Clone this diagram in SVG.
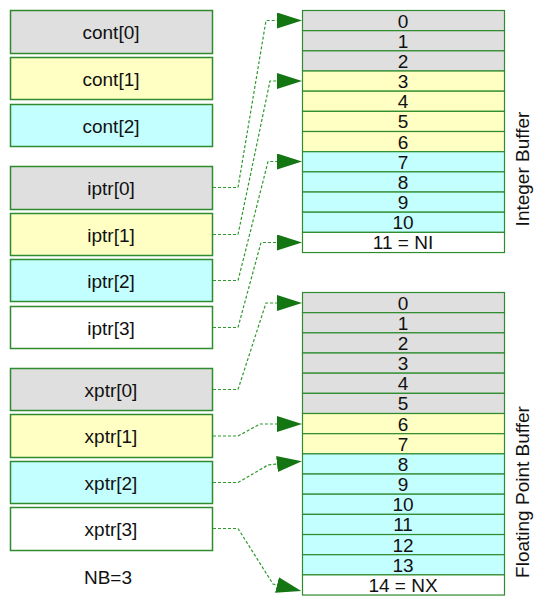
<svg xmlns="http://www.w3.org/2000/svg" width="550" height="600" viewBox="0 0 550 600">
  <style>
    .box { stroke: #2e8b2e; stroke-width: 1.5; }
    .cell { stroke: #2e8b2e; stroke-width: 1.2; }
    .g { fill: #dfdfdf; }
    .y { fill: #ffffc4; }
    .c { fill: #c4ffff; }
    .w { fill: #ffffff; }
    .lbl { font-family: "Liberation Sans", Arial, sans-serif; font-size: 19px; fill: #111; text-anchor: middle; dominant-baseline: central; }
    .num { font-family: "Liberation Sans", Arial, sans-serif; font-size: 19px; fill: #111; text-anchor: middle; dominant-baseline: central; }
    .link { fill: none; stroke: #2e992e; stroke-width: 1.2; stroke-dasharray: 3 2; marker-end: url(#head); }
  </style>
  <defs>
    <marker id="head" viewBox="0 0 25 16" refX="0" refY="8" markerWidth="25" markerHeight="16" markerUnits="userSpaceOnUse" orient="auto">
      <path d="M0,0 L25,8 L0,16 Z" fill="#137613"/>
    </marker>
  </defs>

  <!-- control array -->
  <g id="cont0"><rect class="box g" x="10.5" y="10.5" width="202" height="43"/><text class="lbl" x="111" y="32.5">cont[0]</text></g>
  <g id="cont1"><rect class="box y" x="10.5" y="57.5" width="202" height="42"/><text class="lbl" x="111" y="79">cont[1]</text></g>
  <g id="cont2"><rect class="box c" x="10.5" y="104.5" width="202" height="42"/><text class="lbl" x="111" y="126">cont[2]</text></g>

  <!-- integer pointers -->
  <g id="iptr0"><rect class="box g" x="10.5" y="166.5" width="202" height="43"/><text class="lbl" x="111" y="188.5">iptr[0]</text></g>
  <g id="iptr1"><rect class="box y" x="10.5" y="213.5" width="202" height="42"/><text class="lbl" x="111" y="235">iptr[1]</text></g>
  <g id="iptr2"><rect class="box c" x="10.5" y="259.5" width="202" height="42"/><text class="lbl" x="111" y="281">iptr[2]</text></g>
  <g id="iptr3"><rect class="box w" x="10.5" y="306.5" width="202" height="42"/><text class="lbl" x="111" y="328">iptr[3]</text></g>

  <!-- floating point pointers -->
  <g id="xptr0"><rect class="box g" x="10.5" y="368.5" width="202" height="42"/><text class="lbl" x="111" y="390">xptr[0]</text></g>
  <g id="xptr1"><rect class="box y" x="10.5" y="414.5" width="202" height="43"/><text class="lbl" x="111" y="436.5">xptr[1]</text></g>
  <g id="xptr2"><rect class="box c" x="10.5" y="461.5" width="202" height="42"/><text class="lbl" x="111" y="483">xptr[2]</text></g>
  <g id="xptr3"><rect class="box w" x="10.5" y="507.5" width="202" height="43"/><text class="lbl" x="111" y="529.5">xptr[3]</text></g>

  <g id="nb"><text class="lbl" x="108" y="577">NB=3</text></g>

  <!-- integer buffer: 12 cells -->
  <g id="integer-buffer">
    <rect class="cell g" x="302.5" y="10.5" width="202" height="20.17"/><text class="num" x="403" y="21">0</text>
    <rect class="cell g" x="302.5" y="30.67" width="202" height="20.17"/><text class="num" x="403" y="41.2">1</text>
    <rect class="cell g" x="302.5" y="50.84" width="202" height="20.17"/><text class="num" x="403" y="61.3">2</text>
    <rect class="cell y" x="302.5" y="71.01" width="202" height="20.17"/><text class="num" x="403" y="81.5">3</text>
    <rect class="cell y" x="302.5" y="91.18" width="202" height="20.17"/><text class="num" x="403" y="101.7">4</text>
    <rect class="cell y" x="302.5" y="111.35" width="202" height="20.17"/><text class="num" x="403" y="121.8">5</text>
    <rect class="cell y" x="302.5" y="131.52" width="202" height="20.17"/><text class="num" x="403" y="142">6</text>
    <rect class="cell c" x="302.5" y="151.69" width="202" height="20.17"/><text class="num" x="403" y="162.2">7</text>
    <rect class="cell c" x="302.5" y="171.86" width="202" height="20.17"/><text class="num" x="403" y="182.3">8</text>
    <rect class="cell c" x="302.5" y="192.03" width="202" height="20.17"/><text class="num" x="403" y="202.5">9</text>
    <rect class="cell c" x="302.5" y="212.2" width="202" height="20.17"/><text class="num" x="403" y="222.7">10</text>
    <rect class="cell w" x="302.5" y="232.37" width="202" height="20.17"/><text class="num" x="403" y="242.8">11 = NI</text>
    <text class="num" transform="translate(522,169) rotate(-90)" x="0" y="0">Integer Buffer</text>
  </g>

  <!-- floating point buffer: 15 cells -->
  <g id="float-buffer">
    <rect class="cell g" x="302.5" y="292.5" width="202" height="20.17"/><text class="num" x="403" y="303">0</text>
    <rect class="cell g" x="302.5" y="312.67" width="202" height="20.17"/><text class="num" x="403" y="323.2">1</text>
    <rect class="cell g" x="302.5" y="332.84" width="202" height="20.17"/><text class="num" x="403" y="343.3">2</text>
    <rect class="cell g" x="302.5" y="353.01" width="202" height="20.17"/><text class="num" x="403" y="363.5">3</text>
    <rect class="cell g" x="302.5" y="373.18" width="202" height="20.17"/><text class="num" x="403" y="383.7">4</text>
    <rect class="cell g" x="302.5" y="393.35" width="202" height="20.17"/><text class="num" x="403" y="403.8">5</text>
    <rect class="cell y" x="302.5" y="413.52" width="202" height="20.17"/><text class="num" x="403" y="424">6</text>
    <rect class="cell y" x="302.5" y="433.69" width="202" height="20.17"/><text class="num" x="403" y="444.2">7</text>
    <rect class="cell c" x="302.5" y="453.86" width="202" height="20.17"/><text class="num" x="403" y="464.3">8</text>
    <rect class="cell c" x="302.5" y="474.03" width="202" height="20.17"/><text class="num" x="403" y="484.5">9</text>
    <rect class="cell c" x="302.5" y="494.2" width="202" height="20.17"/><text class="num" x="403" y="504.7">10</text>
    <rect class="cell c" x="302.5" y="514.37" width="202" height="20.17"/><text class="num" x="403" y="524.8">11</text>
    <rect class="cell c" x="302.5" y="534.54" width="202" height="20.17"/><text class="num" x="403" y="545">12</text>
    <rect class="cell c" x="302.5" y="554.71" width="202" height="20.17"/><text class="num" x="403" y="565.2">13</text>
    <rect class="cell w" x="302.5" y="574.88" width="202" height="20.17"/><text class="num" x="403" y="585.3">14 = NX</text>
    <text class="num" transform="translate(522,492) rotate(-90)" x="0" y="0">Floating Point Buffer</text>
  </g>

  <!-- pointer links -->
  <g id="links">
    <path class="link" d="M213,187.5 L238,187.5 L266,20.5 L277,20.5"/>
    <path class="link" d="M213,234.5 L238,234.5 L270,81 L277,81"/>
    <path class="link" d="M213,280.5 L238,280.5 L268,161.5 L277,161.5"/>
    <path class="link" d="M213,327.5 L238,327.5 L261,242.5 L277,242.5"/>
    <path class="link" d="M213,389.5 L238,389.5 L266,303 L277,303"/>
    <path class="link" d="M213,436 L238,436 L260,424 L277,424"/>
    <path class="link" d="M213,482.5 L238,482.5 L268,465 L277,464"/>
    <path class="link" d="M213,528.5 L238,528.5 L273,584 L277,585"/>
  </g>
</svg>
